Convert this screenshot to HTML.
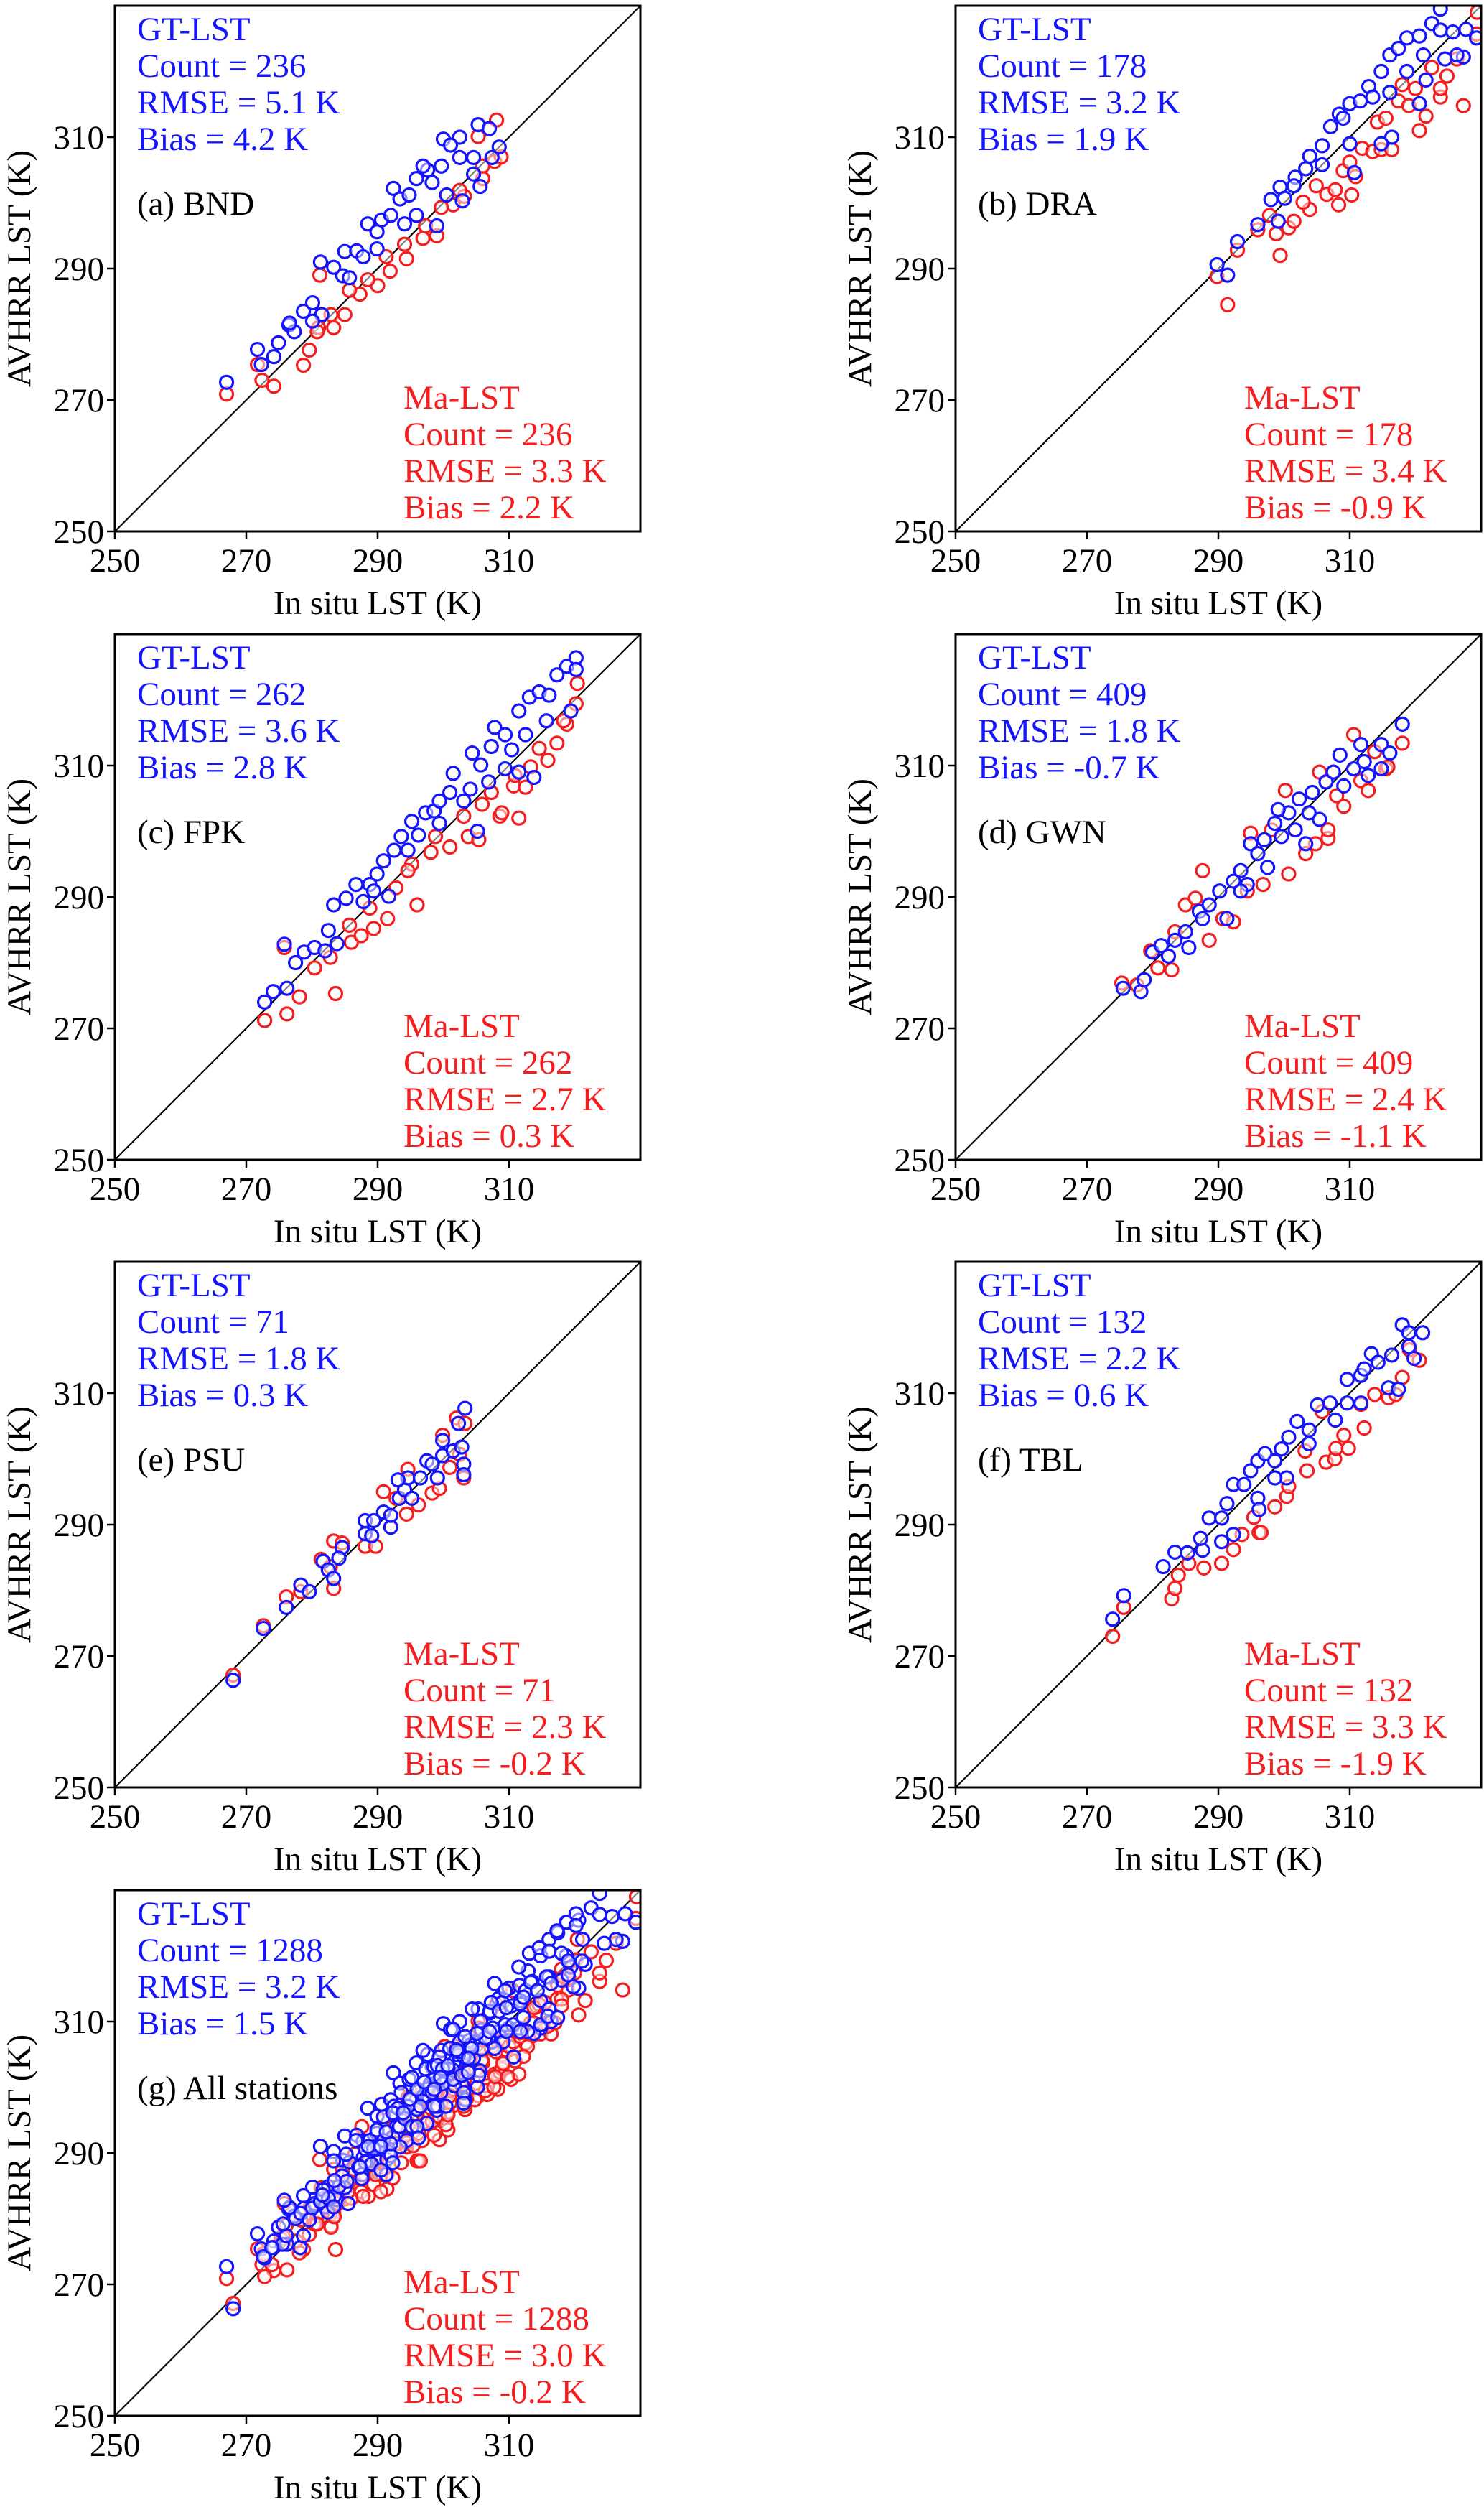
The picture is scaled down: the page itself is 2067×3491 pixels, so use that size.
<!DOCTYPE html>
<html><head><meta charset="utf-8">
<style>
html,body{margin:0;padding:0;background:#fff;}
svg{display:block;}
text{font-family:"Liberation Serif","DejaVu Serif",serif;}
</style></head>
<body>
<svg id="fig" xmlns="http://www.w3.org/2000/svg" width="2067" height="3491" viewBox="0 0 2067 3491"></svg>
<script>
// ---- data (x = in situ LST, y = AVHRR LST, in K) ----
const tickValues = [250, 270, 290, 310];
const axisMin = 250, axisMax = 330;
const panelLabels = ["(a) BND","(b) DRA","(c) FPK","(d) GWN","(e) PSU","(f) TBL","(g) All stations"];
const gtStats = [["236","5.1","4.2"],["178","3.2","1.9"],["262","3.6","2.8"],["409","1.8","-0.7"],["71","1.8","0.3"],["132","2.2","0.6"],["1288","3.2","1.5"]];
const maStats = [["236","3.3","2.2"],["178","3.4","-0.9"],["262","2.7","0.3"],["409","2.4","-1.1"],["71","2.3","-0.2"],["132","3.3","-1.9"],["1288","3.0","-0.2"]];

const gtBND = [[267,272.7],[271.7,277.7],[272.3,275.4],[274.9,278.7],[274.2,276.6],[276.5,281.4],[278.7,283.5],[280.1,284.8],[281.3,291],[283.3,290.2],[285,292.6],[284.7,288.9],[286.8,292.7],[288.5,296.8],[290.6,297.4],[292.4,302.2],[293.4,300.6],[295.9,303.7],[297.6,305],[299,296.5],[300,309.7],[302.5,310],[305.3,311.9],[307,311.3],[308.5,308.5],[305.6,302.5],[302.9,300.3],[300.5,301.2],[298.3,303.1],[295.9,298.1],[294.1,296.8],[289.9,293],[287.8,291.8],[285.7,288.6],[281.5,283],[280.1,282],[277.3,280.4],[276.6,281.7],[304.6,306.9],[302.5,306.9],[299.7,305.6],[296.9,305.6],[294.8,301.2],[292,298.1],[289.9,295.6],[307.4,306.9],[304.6,304.4],[301.1,308.8]];
const maBND = [[267,270.9],[271.7,275.4],[272.4,273],[274.2,272.1],[278.7,275.3],[279.6,277.6],[281,281],[283.3,281],[285,283],[287.3,286.1],[290,287.4],[291.9,289.6],[294.4,291.5],[296.9,294.6],[299,295],[301.5,299.7],[303.2,301],[306,303.7],[307.8,306.3],[308.1,312.6],[308.8,307],[302.5,301.9],[299.7,299.3],[297.3,296.5],[294.1,293.7],[291.3,291.8],[288.5,288.3],[285.7,286.7],[282.9,283],[280.8,280.4],[305.3,310.1],[306,305.6],[281.2,289]];
const gtDRA = [[289.8,290.6],[291.4,289],[292.9,294.1],[296,296.7],[298,300.5],[299.4,302.4],[299.1,297.2],[301.7,303.9],[303.3,305.2],[303.9,307.1],[305.8,308.7],[307.1,311.6],[308.4,313.5],[310,315.1],[310.7,304.6],[310,309],[311.6,315.5],[312.9,317.7],[314.8,320],[316.1,322.5],[317.4,323.5],[318.7,325.1],[320.6,325.4],[322.5,327.3],[323.8,326.3],[325.7,326],[327.7,326.4],[329.3,325.1],[327.3,322.2],[326.3,322.5],[324.5,321.9],[321.6,318.7],[320.6,315.1],[316.4,310],[314.8,309],[313.5,316.1],[309,312.9],[305.8,305.8],[301.5,302.6],[300.1,300.7],[316.1,316.8],[318.7,320],[321.2,322.5],[323.8,329.5]];
const maDRA = [[289.8,288.8],[291.4,284.5],[292.9,292.8],[296,295.9],[297.8,298.1],[299.4,292],[298.8,295.3],[300.7,296.2],[301.5,297.2],[303.9,299],[302.9,300.1],[304.9,302.6],[306.5,301.3],[307.8,302],[308.3,299.7],[310.3,301.2],[309,304.9],[310.9,304],[310,306.2],[311.9,308.3],[313.5,307.8],[314.8,308.1],[316.4,308.1],[314.2,312.3],[315.5,312.9],[317.4,315.5],[319,314.8],[320.6,311],[321.6,313.2],[323.8,316.1],[323.8,317.4],[324.8,319.3],[327.3,314.8],[326.3,321.9],[329.4,329],[329.3,325.7],[320,317.4],[322.5,320.6],[318,318]];
const gtFPK = [[272.8,274],[274.1,275.6],[276.2,276.1],[275.8,282.8],[277.5,280],[278.8,281.6],[280.4,282.3],[282.5,284.9],[283.3,288.8],[285.2,289.8],[286.7,291.9],[287.8,289.3],[288.8,291.9],[289.9,293.5],[290.9,295.5],[291.7,290.1],[292.5,297.1],[293.6,299.2],[295.2,301.5],[296.2,299.4],[297.3,302.8],[298.6,303.1],[299.4,304.6],[301,305.9],[301.5,308.8],[303.1,304.6],[304.1,306.4],[305.2,300],[304.4,311.9],[305.7,310.1],[307.3,312.9],[307.8,315.8],[309.4,314.7],[310.4,312.4],[311.5,318.3],[312.5,314.7],[313.8,308.2],[313.1,320.4],[314.6,321.2],[316.1,320.7],[317.3,323.8],[318.8,325.1],[320.2,326.4],[319.4,318.3],[320.2,324.6],[309.4,309.5],[311.5,309],[315.7,316.8],[306.9,307.5],[299.4,301.2],[294.6,297.1],[289.4,290.9],[282,281.8],[283.8,282.9]];
const maFPK = [[272.8,271.2],[276.2,272.2],[278.1,274.8],[283.6,275.3],[280.4,279.2],[282.8,280.8],[286,283.1],[287.5,284.1],[289.4,285.2],[291.5,286.7],[292.8,291.4],[296,288.8],[295.2,295],[298.1,296.8],[301,297.6],[303.8,299.2],[305.4,298.7],[303.1,302.3],[305.9,304.1],[308.6,302.3],[311.5,302],[308.9,302.8],[310.7,306.9],[312.5,306.7],[313.3,309.8],[315.9,310.8],[317.3,313.4],[318.8,316.3],[318.3,316.8],[320.4,322.5],[320.2,319.4],[314.6,312.6],[310.9,308.5],[307.3,305.9],[298.8,299.2],[294.6,294],[288.8,288.3],[285.7,285.7],[275.8,282.3]];
const gtGWN = [[275.5,276.1],[278.2,275.6],[278.7,277.4],[280,281.6],[282.4,281],[283.4,283.4],[285,284.7],[285.5,282.3],[287.1,287.8],[288.6,288.8],[290.2,290.9],[291.3,286.7],[292.3,292.4],[293.4,294],[294.4,291.9],[294.9,298.1],[296,296.6],[297.5,294.5],[298.6,301.2],[299.6,299.2],[300.7,302.8],[301.7,300.2],[302.3,304.9],[303.3,298.1],[304.3,305.9],[305.4,301.8],[306.4,307.5],[307.5,309],[308.5,311.6],[309.1,306.9],[310.6,309.5],[311.7,313.2],[312.8,308.5],[314.8,313.2],[316.1,311.9],[318,316.3],[314.8,309.5],[312.2,310.6],[303.8,302.8],[299.1,303.3],[297,298.7],[293.4,290.9],[287.6,286.7],[281.3,282.6]];
const maGWN = [[275.3,276.9],[277.6,276.6],[279.7,281.8],[280.8,279.2],[283.4,284.7],[285,288.8],[286.5,289.8],[288.6,283.4],[287.6,294],[290.7,286.7],[292.3,286.2],[294.9,299.7],[296.8,291.9],[298.1,300.2],[300.7,293.5],[300.2,306.2],[303.3,296.6],[304.8,298.1],[306.7,298.9],[306.7,300.2],[308,305.4],[309.1,303.8],[310.6,314.7],[311.7,307.7],[312.8,306.2],[315.5,309.5],[315.8,309.8],[318,313.4],[313.8,312.1],[305.4,309],[294.4,290.9],[282.9,278.9]];
const gtPSU = [[268,266.3],[272.6,274.2],[276.1,277.4],[278.3,280.8],[279.6,279.8],[281.7,284.4],[282.5,283.1],[283.3,281.8],[284.6,286.5],[284.1,284.9],[288.1,290.6],[288.1,288.6],[289.4,290.6],[289.1,288.3],[290.9,291.9],[292,289.6],[292,291.4],[293.3,294],[294.1,295.3],[294.6,297.1],[295.2,294],[296.5,297.1],[297.5,299.7],[298.3,299.2],[299.1,297.1],[299.9,300.5],[299.9,302.8],[301.5,301.2],[302.3,305.4],[302.8,301.8],[303.1,299.2],[303.3,307.7],[303.1,297.6],[293.1,296.8]];
const maPSU = [[268,267.1],[272.6,274.6],[276.1,279],[278.3,279.8],[281.4,284.7],[283.3,287.5],[283.3,280.3],[284.6,287.2],[282.8,283.6],[288.1,286.7],[289.7,286.7],[290.9,295],[292.8,294],[294.4,291.6],[294.6,298.4],[296.2,293],[298.3,294.8],[299.4,295.5],[301,298.7],[299.9,303.6],[302,306.2],[303.3,305.4],[302.5,300.7],[303.1,297.1]];
const gtTBL = [[273.9,275.6],[275.6,279.2],[281.6,283.6],[283.4,285.8],[285.3,285.7],[287.6,286.1],[287.3,287.9],[288.6,291],[290.5,291],[290.5,287.4],[292.3,288.5],[291.3,293.2],[292.3,296.1],[293.9,296.1],[296,294],[296.2,292.3],[294.9,298.2],[296,299.7],[297.1,300.8],[298.6,299.7],[300.4,297.1],[299.6,301.5],[300.7,303.3],[302,305.7],[303.8,304.4],[305.1,308.2],[307,308.5],[307.8,305.9],[309.6,308.5],[309.6,312.1],[311.7,312.7],[312.2,313.7],[311.7,308.5],[313.3,316],[314.3,314.7],[315.9,310.8],[317.4,310.6],[316.4,315.8],[318,320.4],[319,319.2],[321.1,319.2],[319,317.1],[319.8,315.3],[303.8,302.3],[298.6,297.1]];
const maTBL = [[273.9,273],[275.6,277.4],[282.9,278.7],[283.4,280.3],[283.9,282.3],[285.5,284.1],[287.8,283.4],[290.5,284.1],[292.3,286.2],[293.6,288.5],[296.2,288.8],[296.5,288.8],[295.4,291.1],[298.6,292.7],[300.4,294.3],[300.7,295.8],[303.5,298.2],[306.4,299.5],[307.7,300],[307.9,301.6],[309.8,301.6],[309.1,303.6],[312.2,304.7],[311.7,308.3],[313.8,309.8],[315.9,309.3],[317,309.8],[318,312.4],[320.6,315],[319.1,316.6],[305.8,307.2],[303.2,301.2]];

const gtSeries = [gtBND, gtDRA, gtFPK, gtGWN, gtPSU, gtTBL];
const maSeries = [maBND, maDRA, maFPK, maGWN, maPSU, maTBL];

// ---- layout ----
const NS = "http://www.w3.org/2000/svg";
const svg = document.getElementById("fig");
const SIZE = 732;
const colX = [160, 1331];
const rowY = [8, 883, 1757, 2632];
const BLUE = "#1414ff", RED = "#f51d1d";
const FS = 47;

function el(tag, attrs, parent, txt) {
  const e = document.createElementNS(NS, tag);
  for (const k in attrs) e.setAttribute(k, attrs[k]);
  if (txt !== undefined) e.textContent = txt;
  (parent || svg).appendChild(e);
  return e;
}

function drawPanel(idx, px, py, gt, ma) {
  const sx = v => px + (v - axisMin) / (axisMax - axisMin) * SIZE;
  const sy = v => py + SIZE - (v - axisMin) / (axisMax - axisMin) * SIZE;
  const g = el("g", {});
  
  
  el("defs", {}, g).innerHTML = '<clipPath id="clip' + idx + '"><rect x="' + px + '" y="' + py + '" width="' + SIZE + '" height="' + SIZE + '"/></clipPath>';

  const line = el("line", {x1: sx(axisMin), y1: sy(axisMin), x2: sx(axisMax), y2: sy(axisMax), stroke: "#000", "stroke-width": 2.2}, g);
  
  

  const pts = el("g", {"clip-path": "url(#clip" + idx + ")"}, g);
  
  
  ma.forEach(p => {
    const c = el("circle", {cx: sx(p[0]), cy: sy(p[1]), r: 9, fill: "rgba(255,255,255,0.5)", stroke: RED, "stroke-width": 3.2}, pts);
    
    
  });
  gt.forEach(p => {
    const c = el("circle", {cx: sx(p[0]), cy: sy(p[1]), r: 9, fill: "rgba(255,255,255,0.5)", stroke: BLUE, "stroke-width": 3.2}, pts);
    
    
  });

  const fr = el("rect", {x: px, y: py, width: SIZE, height: SIZE, fill: "none", stroke: "#000", "stroke-width": 3}, g);
  
  

  tickValues.forEach(v => {
    el("line", {x1: sx(v), y1: py + SIZE, x2: sx(v), y2: py + SIZE + 11, stroke: "#000", "stroke-width": 2.5}, g);
    const xt = el("text", {x: sx(v), y: py + SIZE + 56, "font-size": FS, "text-anchor": "middle"}, g, String(v));
    
    
    el("line", {x1: px - 11, y1: sy(v), x2: px, y2: sy(v), stroke: "#000", "stroke-width": 2.5}, g);
    const yt = el("text", {x: px - 15, y: sy(v) + 16, "font-size": FS, "text-anchor": "end"}, g, String(v));
    
    
  });

  const xl = el("text", {x: px + SIZE / 2, y: py + SIZE + 115, "font-size": FS, "text-anchor": "middle"}, g, "In situ LST (K)");
  
  
  const bx = px - 118, by = py + SIZE / 2;
  const yl = el("text", {x: bx, y: by, "font-size": FS, "text-anchor": "middle", transform: "rotate(-90 " + bx + " " + by + ")"}, g, "AVHRR LST (K)");
  
  

  const gs = gtStats[idx], ms = maStats[idx];
  const gtLines = ["GT-LST", "Count = " + gs[0], "RMSE = " + gs[1] + " K", "Bias = " + gs[2] + " K"];
  const maLines = ["Ma-LST", "Count = " + ms[0], "RMSE = " + ms[1] + " K", "Bias = " + ms[2] + " K"];
  const ga = el("g", {}, g);
  
  
  gtLines.forEach((t, i) => el("text", {x: px + 31, y: py + 48 + i * 51, "font-size": FS, fill: BLUE}, ga, t));
  const mg = el("g", {}, g);
  
  
  maLines.forEach((t, i) => el("text", {x: px + 402, y: py + 561 + i * 51, "font-size": FS, fill: RED}, mg, t));
  const pl = el("text", {x: px + 31, y: py + 291, "font-size": FS, fill: "#000"}, g, panelLabels[idx]);
  
  
}

for (let i = 0; i < 6; i++) {
  drawPanel(i, colX[i % 2], rowY[Math.floor(i / 2)], gtSeries[i], maSeries[i]);
}
drawPanel(6, colX[0], rowY[3], [].concat(...gtSeries), [].concat(...maSeries));
</script>
</body></html>
